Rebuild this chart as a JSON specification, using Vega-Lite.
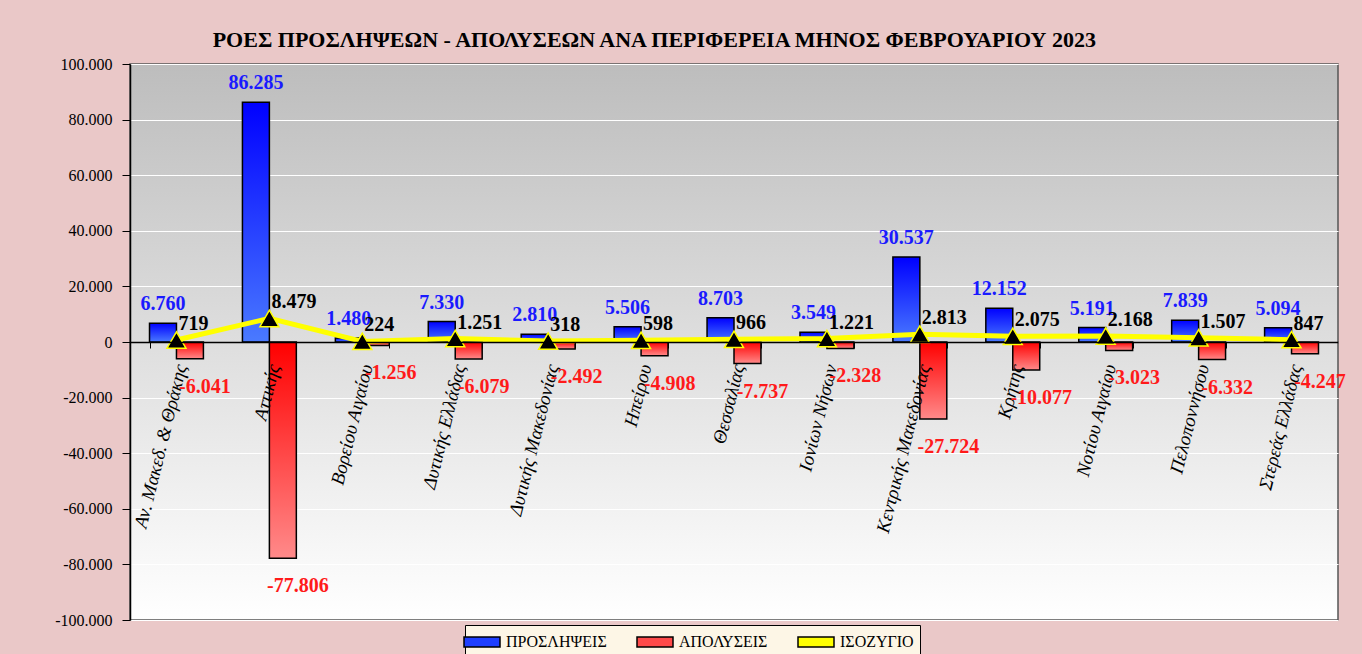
{
  "$schema": "https://vega.github.io/schema/vega-lite/v6.json",
  "width": 1208,
  "height": 556,
  "autosize": {"type": "none"},
  "padding": {"left": 130, "top": 64, "right": 24, "bottom": 34},
  "background": "#eac8c8",
  "config": {
    "locale": {"number": {"decimal": ",", "thousands": ".", "grouping": [3], "currency": ["", " €"], "minus": "-"}},
    "view": {
      "fill": {"gradient": "linear", "x1": 0, "y1": 0, "x2": 0, "y2": 1, "stops": [{"offset": 0, "color": "#bdbdbd"}, {"offset": 1, "color": "#ffffff"}]},
      "stroke": "#555555",
      "strokeWidth": 1.5
    },
    "font": "Liberation Serif",
    "axisY": {
      "labelFont": "Liberation Serif",
      "labelFontSize": 16,
      "labelColor": "#000000",
      "tickColor": "#000000",
      "tickSize": 8,
      "domainColor": "#000000",
      "domainWidth": 1.5,
      "labelPadding": 10,
      "grid": true,
      "gridColor": "#ffffff",
      "gridWidth": 1.2,
      "gridOpacity": 1
    }
  },
  "title": {
    "text": "ΡΟΕΣ ΠΡΟΣΛΗΨΕΩΝ - ΑΠΟΛΥΣΕΩΝ ΑΝΑ ΠΕΡΙΦΕΡΕΙΑ ΜΗΝΟΣ ΦΕΒΡΟΥΑΡΙΟΥ  2023",
    "anchor": "start",
    "dx": 158,
    "offset": 4,
    "font": "Liberation Serif",
    "fontSize": 22,
    "fontWeight": "bold",
    "color": "#000000"
  },
  "datasets": {
    "regions": [
      {"region": "Αν. Μακεδ. & Θράκης", "hires": 6760, "layoffs": -6041, "balance": 719},
      {"region": "Αττικής", "hires": 86285, "layoffs": -77806, "balance": 8479},
      {"region": "Βορείου Αιγαίου", "hires": 1480, "layoffs": -1256, "balance": 224},
      {"region": "Δυτικής Ελλάδας", "hires": 7330, "layoffs": -6079, "balance": 1251},
      {"region": "Δυτικής Μακεδονίας", "hires": 2810, "layoffs": -2492, "balance": 318},
      {"region": "Ηπείρου", "hires": 5506, "layoffs": -4908, "balance": 598},
      {"region": "Θεσσαλίας", "hires": 8703, "layoffs": -7737, "balance": 966},
      {"region": "Ιονίων Νήσων", "hires": 3549, "layoffs": -2328, "balance": 1221},
      {"region": "Κεντρικής Μακεδονίας", "hires": 30537, "layoffs": -27724, "balance": 2813},
      {"region": "Κρήτης", "hires": 12152, "layoffs": -10077, "balance": 2075},
      {"region": "Νοτίου Αιγαίου", "hires": 5191, "layoffs": -3023, "balance": 2168},
      {"region": "Πελοποννήσου", "hires": 7839, "layoffs": -6332, "balance": 1507},
      {"region": "Στερεάς Ελλάδας", "hires": 5094, "layoffs": -4247, "balance": 847}
    ]
  },
  "data": {"name": "regions"},
  "encoding": {
    "x": {
      "field": "region",
      "type": "nominal",
      "sort": null,
      "scale": {"paddingInner": 0.42, "paddingOuter": 0.21},
      "axis": {
        "orient": "bottom",
        "offset": -278,
        "labels": false,
        "title": null,
        "domain": true,
        "domainColor": "#000000",
        "domainWidth": 1.5,
        "ticks": true,
        "tickBand": "extent",
        "tickColor": "#000000",
        "tickSize": 6,
        "tickWidth": 1,
        "grid": false,
        "zindex": 1
      }
    }
  },
  "layer": [
    {
      "transform": [{"fold": ["hires", "layoffs"], "as": ["key", "value"]}],
      "mark": {"type": "bar", "stroke": "#000000", "strokeWidth": 1.5},
      "encoding": {
        "xOffset": {"field": "key", "scale": {"domain": ["hires", "layoffs"], "paddingInner": 0, "paddingOuter": 0}},
        "y": {
          "field": "value",
          "type": "quantitative",
          "scale": {"domain": [-100000, 100000], "nice": false},
          "axis": {"title": null, "format": ",d", "values": [-100000, -80000, -60000, -40000, -20000, 0, 20000, 40000, 60000, 80000, 100000]}
        },
        "fill": {
          "condition": {"test": "datum.key === 'hires'", "value": {"gradient": "linear", "x1": 0, "y1": 0, "x2": 0, "y2": 1, "stops": [{"offset": 0, "color": "#0000ff"}, {"offset": 1, "color": "#4a7aff"}]}},
          "value": {"gradient": "linear", "x1": 0, "y1": 0, "x2": 0, "y2": 1, "stops": [{"offset": 0, "color": "#ff0000"}, {"offset": 1, "color": "#ff8a8a"}]}
        }
      }
    },
    {
      "mark": {"type": "text", "angle": -76, "align": "right", "baseline": "middle", "dx": -21, "dy": 10, "font": "Liberation Serif", "fontStyle": "italic", "fontSize": 19, "color": "#000000"},
      "encoding": {
        "y": {"datum": 0, "type": "quantitative", "scale": {"domain": [-100000, 100000], "nice": false}, "axis": {"title": null, "format": ",d", "values": [-100000, -80000, -60000, -40000, -20000, 0, 20000, 40000, 60000, 80000, 100000]}},
        "text": {"field": "region", "type": "nominal"}
      }
    },
    {
      "mark": {"type": "line", "color": "#ffff00", "strokeWidth": 5},
      "encoding": {
        "y": {"field": "balance", "type": "quantitative", "scale": {"domain": [-100000, 100000], "nice": false}, "axis": {"title": null, "format": ",d", "values": [-100000, -80000, -60000, -40000, -20000, 0, 20000, 40000, 60000, 80000, 100000]}}
      }
    },
    {
      "mark": {"type": "point", "shape": "triangle-up", "filled": true, "fill": "#000000", "stroke": "#ffff00", "strokeWidth": 1.5, "size": 360, "opacity": 1},
      "encoding": {
        "y": {"field": "balance", "type": "quantitative", "scale": {"domain": [-100000, 100000], "nice": false}, "axis": {"title": null, "format": ",d", "values": [-100000, -80000, -60000, -40000, -20000, 0, 20000, 40000, 60000, 80000, 100000]}}
      }
    },
    {
      "transform": [{"fold": ["hires", "layoffs"], "as": ["key", "value"]}, {"filter": "datum.key === 'hires'"}],
      "mark": {"type": "text", "align": "center", "baseline": "bottom", "dy": -9, "font": "Liberation Serif", "fontSize": 20, "fontWeight": "bold", "color": "#1a1aff"},
      "encoding": {
        "xOffset": {"field": "key", "scale": {"domain": ["hires", "layoffs"], "paddingInner": 0, "paddingOuter": 0}},
        "y": {"field": "value", "type": "quantitative", "scale": {"domain": [-100000, 100000], "nice": false}, "axis": {"title": null, "format": ",d", "values": [-100000, -80000, -60000, -40000, -20000, 0, 20000, 40000, 60000, 80000, 100000]}},
        "text": {"field": "value", "type": "quantitative", "format": ",d"}
      }
    },
    {
      "transform": [{"fold": ["hires", "layoffs"], "as": ["key", "value"]}, {"filter": "datum.key === 'layoffs'"}],
      "mark": {"type": "text", "align": "center", "baseline": "top", "dx": 15, "dy": 18, "font": "Liberation Serif", "fontSize": 20, "fontWeight": "bold", "color": "#ff1a1a"},
      "encoding": {
        "xOffset": {"field": "key", "scale": {"domain": ["hires", "layoffs"], "paddingInner": 0, "paddingOuter": 0}},
        "y": {"field": "value", "type": "quantitative", "scale": {"domain": [-100000, 100000], "nice": false}, "axis": {"title": null, "format": ",d", "values": [-100000, -80000, -60000, -40000, -20000, 0, 20000, 40000, 60000, 80000, 100000]}},
        "text": {"field": "value", "type": "quantitative", "format": ",d"}
      }
    },
    {
      "mark": {"type": "text", "align": "left", "baseline": "middle", "dx": 2, "dy": -16, "font": "Liberation Serif", "fontSize": 20, "fontWeight": "bold", "color": "#000000"},
      "encoding": {
        "y": {"field": "balance", "type": "quantitative", "scale": {"domain": [-100000, 100000], "nice": false}, "axis": {"title": null, "format": ",d", "values": [-100000, -80000, -60000, -40000, -20000, 0, 20000, 40000, 60000, 80000, 100000]}},
        "text": {"field": "balance", "type": "quantitative", "format": ",d"}
      }
    },
    {
      "transform": [{"filter": "false"}],
      "mark": {"type": "point", "filled": true},
      "encoding": {
        "color": {
          "field": "series",
          "type": "nominal",
          "scale": {"domain": ["ΠΡΟΣΛΗΨΕΙΣ", "ΑΠΟΛΥΣΕΙΣ", "ΙΣΟΖΥΓΙΟ"], "range": ["#1f3fff", "#ff4a4a", "#ffff00"]},
          "legend": {
            "title": null,
            "orient": "none",
            "legendX": 335,
            "legendY": 561,
            "direction": "horizontal",
            "fillColor": "#fdf6e6",
            "strokeColor": "#000000",
            "padding": 6,
            "labelFont": "Liberation Serif",
            "labelFontSize": 16,
            "labelColor": "#000000",
            "labelOffset": 13,
            "labelLimit": 300,
            "symbolSize": 400,
            "symbolType": "M-1.8,-0.5H1.8V0.5H-1.8Z",
            "symbolStrokeColor": "#000000",
            "symbolStrokeWidth": 1.5,
            "symbolOpacity": 1,
            "columnPadding": 27
          }
        }
      }
    }
  ]
}
